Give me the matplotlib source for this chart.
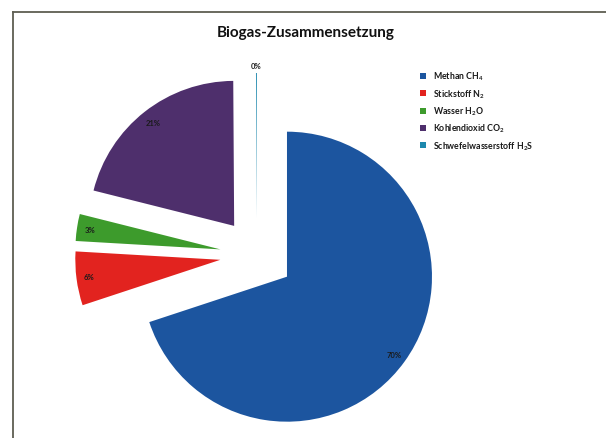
import numpy as np
import matplotlib
matplotlib.use("Agg")
import matplotlib.pyplot as plt
from matplotlib.lines import Line2D

plt.rcParams['font.family'] = ['Lato', 'DejaVu Sans']
plt.rcParams['mathtext.fontset'] = 'custom'
plt.rcParams['mathtext.rm'] = 'Lato'
plt.rcParams['mathtext.it'] = 'Lato'
plt.rcParams['mathtext.bf'] = 'Lato:bold'
plt.rcParams['mathtext.default'] = 'regular'

title = "Biogas-Zusammensetzung"
categories = ["Methan CH$_4$", "Stickstoff N$_2$", "Wasser H$_2$O",
              "Kohlendioxid CO$_2$", "Schwefelwasserstoff H$_2$S"]
values = [70, 6, 3, 21, 0.1]
colors = ["#1c559f", "#e2231f", "#3d9b2c", "#4e2f6c", "#1d88ad"]

W, H = 606, 439
fig = plt.figure(figsize=(W / 100, H / 100), dpi=100)
fig.patch.set_facecolor("white")
ax = fig.add_axes([0, 0, 1, 1])

center = (257, H - 256)
radius = 145
explode = [37] * len(values)

wedges, texts, autotexts = ax.pie(
    values, colors=colors, startangle=90, counterclock=False,
    center=center, radius=radius, explode=explode,
    autopct='%1.0f%%', pctdistance=0.91,
    textprops=dict(fontsize=5.5, color="#1a1a1a", fontweight="bold"),
    wedgeprops=dict(linewidth=0), frame=True)
ax.set_xlim(0, W)
ax.set_ylim(0, H)
ax.set_aspect("equal")
ax.axis("off")

# label of the tiny slice sits outside end
w = wedges[-1]
tm = np.deg2rad((w.theta1 + w.theta2) / 2)
autotexts[-1].set_position((w.center[0] + 1.05 * w.r * np.cos(tm),
                            w.center[1] + 1.05 * w.r * np.sin(tm)))

fig.text(306 / W, 1 - 33 / H, title, ha="center", va="center",
         fontsize=11, fontweight="bold", color="#111111")

leg = ax.legend(wedges, categories, loc="upper left",
                bbox_to_anchor=(420 / W, 1 - 71 / H), bbox_transform=fig.transFigure,
                frameon=False, handlelength=0.7, handleheight=0.7,
                handletextpad=0.8, labelspacing=0.55, borderpad=0, borderaxespad=0,
                prop=dict(size=6.3, weight="bold"))
for t in leg.get_texts():
    t.set_color("#1a1a1a")

# chart border (left and top visible)
fig.add_artist(Line2D([13 / W, 13 / W], [0, 1 - 13 / H], transform=fig.transFigure,
                      color="#5e5e52", linewidth=1.3))
fig.add_artist(Line2D([13 / W, 1], [1 - 13 / H, 1 - 13 / H], transform=fig.transFigure,
                      color="#5e5e52", linewidth=1.3))

fig.savefig("out.png", dpi=100, facecolor="white")
